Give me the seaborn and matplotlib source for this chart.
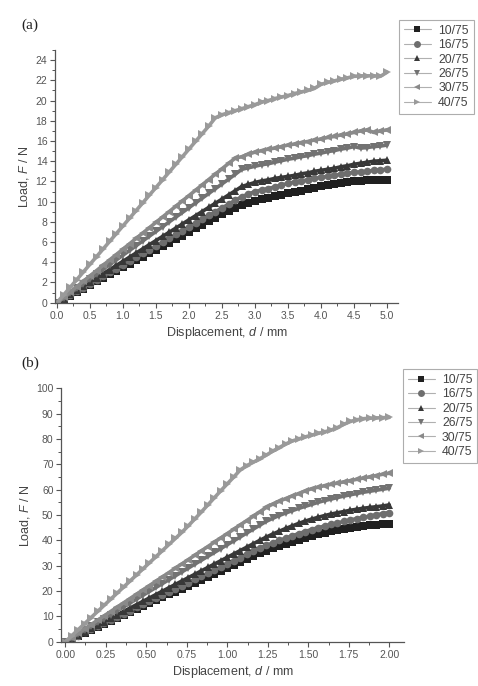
import numpy as np
import pandas as pd
import matplotlib
matplotlib.use("Agg")
import matplotlib.pyplot as plt
import seaborn as sns
from matplotlib.ticker import MultipleLocator

# series names, markers and grey levels
names = ["10/75", "16/75", "20/75", "26/75", "30/75", "40/75"]
markers = ["s", "o", "^", "v", "<", ">"]
colors = ["#202020", "#6e6e6e", "#383838", "#727272", "#8a8a8a", "#9a9a9a"]

# (a) displacement 0..5 mm, sampled every 0.1 mm
disp_a = np.round(np.arange(51) * 0.1, 2)
load_a = {
    "10/75": [0, 0.35, 0.7, 1.05, 1.4, 1.75, 2.1, 2.45, 2.8, 3.15, 3.5,
              3.85, 4.2, 4.55, 4.9, 5.25, 5.6, 5.95, 6.3, 6.65, 7.0,
              7.35, 7.7, 8.05, 8.4, 8.75, 9.05, 9.4, 9.7, 9.9, 10.1,
              10.25, 10.4, 10.55, 10.7, 10.85, 10.95, 11.1, 11.25, 11.4, 11.5,
              11.6, 11.7, 11.8, 11.9, 12.0, 12.05, 12.1, 12.1, 12.1, 12.1],
    "16/75": [0, 0.38, 0.75, 1.13, 1.5, 1.88, 2.25, 2.63, 3.0, 3.38, 3.75,
              4.13, 4.5, 4.88, 5.25, 5.63, 6.0, 6.38, 6.75, 7.13, 7.5,
              7.88, 8.25, 8.63, 9.0, 9.38, 9.75, 10.13, 10.5, 10.75, 11.0,
              11.15, 11.3, 11.45, 11.65, 11.8, 11.95, 12.05, 12.15, 12.3, 12.4,
              12.5, 12.6, 12.7, 12.8, 12.9, 12.95, 13.0, 13.1, 13.15, 13.2],
    "20/75": [0, 0.41, 0.82, 1.23, 1.64, 2.05, 2.46, 2.87, 3.28, 3.69, 4.1,
              4.51, 4.92, 5.33, 5.74, 6.15, 6.56, 6.97, 7.38, 7.79, 8.2,
              8.61, 9.02, 9.43, 9.84, 10.25, 10.66, 11.07, 11.5, 11.7, 11.9,
              12.05, 12.15, 12.3, 12.4, 12.5, 12.6, 12.75, 12.85, 13.0, 13.1,
              13.2, 13.3, 13.45, 13.55, 13.7, 13.8, 13.9, 14.0, 14.05, 14.1],
    "26/75": [0, 0.47, 0.94, 1.41, 1.88, 2.35, 2.82, 3.29, 3.76, 4.23, 4.7,
              5.17, 5.64, 6.11, 6.58, 7.05, 7.52, 7.99, 8.46, 8.93, 9.4,
              9.87, 10.34, 10.81, 11.28, 11.75, 12.22, 12.7, 13.2, 13.35, 13.5,
              13.65, 13.75, 13.9, 14.05, 14.2, 14.3, 14.45, 14.55, 14.7, 14.8,
              14.95, 15.05, 15.2, 15.3, 15.45, 15.3, 15.35, 15.45, 15.5, 15.6],
    "30/75": [0, 0.53, 1.06, 1.59, 2.12, 2.65, 3.18, 3.71, 4.24, 4.77, 5.3,
              5.83, 6.36, 6.89, 7.42, 7.95, 8.48, 9.01, 9.54, 10.07, 10.6,
              11.13, 11.66, 12.19, 12.72, 13.25, 13.78, 14.3, 14.45, 14.7, 14.9,
              15.05, 15.2, 15.3, 15.45, 15.6, 15.7, 15.85, 15.95, 16.1, 16.2,
              16.35, 16.45, 16.6, 16.7, 16.85, 17.0, 17.1, 16.85, 17.0, 17.1],
    "40/75": [0, 0.76, 1.52, 2.28, 3.04, 3.8, 4.56, 5.32, 6.08, 6.84, 7.6,
              8.36, 9.12, 9.88, 10.64, 11.4, 12.16, 12.92, 13.68, 14.44, 15.2,
              15.96, 16.72, 17.48, 18.3, 18.6, 18.8, 19.0, 19.2, 19.4, 19.6,
              19.85, 20.0, 20.2, 20.35, 20.5, 20.7, 20.85, 21.0, 21.2, 21.6,
              21.8, 21.95, 22.1, 22.25, 22.4, 22.45, 22.45, 22.45, 22.4, 22.8],
}

# (b) displacement 0..2 mm, sampled every 0.04 mm
disp_b = np.round(np.arange(51) * 0.04, 2)
load_b = {
    "10/75": [0, 1.17, 2.34, 3.5, 4.67, 5.84, 7.0, 8.18, 9.34, 10.5, 11.68,
              12.85, 14.0, 15.2, 16.35, 17.5, 18.7, 19.85, 21.0, 22.2, 23.35,
              24.5, 25.7, 26.85, 28.0, 29.2, 30.35, 31.5, 32.7, 33.85, 35.0,
              36.0, 36.9, 37.8, 38.7, 39.5, 40.3, 41.1, 41.9, 42.5, 43.1,
              43.6, 44.1, 44.6, 45.0, 45.4, 45.7, 46.0, 46.2, 46.4, 46.5],
    "16/75": [0, 1.23, 2.46, 3.7, 4.93, 6.16, 7.39, 8.62, 9.86, 11.09, 12.32,
              13.55, 14.78, 16.0, 17.25, 18.48, 19.7, 20.94, 22.18, 23.4, 24.64,
              25.87, 27.1, 28.34, 29.57, 30.8, 32.03, 33.26, 34.5, 35.7, 36.96,
              38.0, 39.0, 40.0, 40.9, 41.8, 42.7, 43.5, 44.3, 45.0, 45.7,
              46.3, 46.9, 47.5, 48.1, 48.6, 49.1, 49.6, 50.1, 50.6, 51.0],
    "20/75": [0, 1.33, 2.67, 4.0, 5.33, 6.67, 8.0, 9.33, 10.67, 12.0, 13.33,
              14.67, 16.0, 17.33, 18.67, 20.0, 21.33, 22.67, 24.0, 25.33, 26.67,
              28.0, 29.33, 30.67, 32.0, 33.33, 34.67, 36.0, 37.33, 38.67, 40.0,
              41.3, 42.5, 43.6, 44.7, 45.7, 46.7, 47.6, 48.4, 49.1, 49.8,
              50.4, 50.9, 51.4, 51.9, 52.3, 52.7, 53.0, 53.3, 53.6, 54.0],
    "26/75": [0, 1.53, 3.06, 4.6, 6.13, 7.66, 9.19, 10.72, 12.26, 13.79, 15.32,
              16.85, 18.38, 19.9, 21.45, 22.98, 24.5, 26.04, 27.58, 29.1, 30.64,
              32.17, 33.7, 35.24, 36.77, 38.3, 39.83, 41.36, 42.9, 44.43, 45.96,
              47.5, 48.7, 49.8, 50.8, 51.7, 52.6, 53.4, 54.2, 55.0, 55.7,
              56.3, 56.9, 57.5, 58.0, 58.5, 59.0, 59.4, 59.8, 60.2, 60.6],
    "30/75": [0, 1.71, 3.42, 5.12, 6.83, 8.54, 10.25, 11.96, 13.66, 15.37, 17.08,
              18.79, 20.5, 22.2, 23.91, 25.62, 27.33, 29.04, 30.74, 32.45, 34.16,
              35.87, 37.58, 39.28, 40.99, 42.7, 44.41, 46.12, 47.82, 49.53, 51.24,
              53.0, 54.3, 55.4, 56.5, 57.5, 58.5, 59.5, 60.4, 61.0, 61.6,
              62.1, 62.6, 63.1, 63.6, 64.1, 64.6, 65.1, 65.6, 66.1, 66.5],
    "40/75": [0, 2.4, 4.8, 7.2, 9.6, 12.0, 14.4, 16.8, 19.2, 21.6, 24.0,
              26.4, 28.8, 31.2, 33.6, 36.0, 38.4, 40.8, 43.2, 45.8, 48.5,
              51.2, 54.0, 56.8, 59.6, 62.3, 65.0, 67.8, 69.5, 70.8, 72.2,
              73.6, 75.2, 76.6, 78.0, 79.2, 80.0, 80.8, 81.5, 82.2, 82.8,
              83.5, 84.5, 85.8, 86.9, 87.6, 88.0, 88.2, 88.3, 88.4, 88.5],
}


def to_frame(disp, loads):
    rows = []
    for n in names:
        rows.append(pd.DataFrame({"d": disp, "F": loads[n], "sample": n}))
    return pd.concat(rows, ignore_index=True)


sns.set_style("white")
plt.rcParams["font.family"] = ["Liberation Sans", "DejaVu Sans"]
plt.rcParams["mathtext.fontset"] = "custom"
plt.rcParams["mathtext.rm"] = "Liberation Sans"
plt.rcParams["mathtext.it"] = "Liberation Sans:italic"

fig = plt.figure(figsize=(4.78, 6.86), dpi=100)

panels = [
    # data, disp, axes rect, xlim, ylim, x major/minor, y major/minor, xfmt, legend pos, tag
    (load_a, disp_a, [0.115, 0.558, 0.718, 0.369], (-0.03, 5.17), (-0.05, 25.0),
     (0.5, 0.25), (2, 1), "%.1f", (0.822, 0.980), "(a)", 0.963),
    (load_b, disp_b, [0.128, 0.064, 0.718, 0.370], (-0.025, 2.093), (-0.1, 100),
     (0.25, 0.125), (10, 5), "%.2f", (0.830, 0.471), "(b)", 0.471),
]

for loads, disp, rect, xl, yl, xt, yt, xfmt, legpos, tag, tagy in panels:
    ax = fig.add_axes(rect)
    df = to_frame(disp, loads)
    sns.lineplot(data=df, x="d", y="F", hue="sample", style="sample",
                 palette=colors, markers=markers, dashes=False,
                 markersize=5.5, mew=0, linewidth=2.6, ax=ax)
    ax.set_xlim(*xl)
    ax.set_ylim(*yl)
    ax.xaxis.set_major_locator(MultipleLocator(xt[0]))
    ax.xaxis.set_minor_locator(MultipleLocator(xt[1]))
    ax.yaxis.set_major_locator(MultipleLocator(yt[0]))
    ax.yaxis.set_minor_locator(MultipleLocator(yt[1]))
    ax.xaxis.set_major_formatter(matplotlib.ticker.FormatStrFormatter(xfmt))
    ax.tick_params(which="major", direction="out", length=3.5, width=0.8,
                   colors="#555555", labelsize=7.5, pad=2,
                   bottom=True, left=True)
    ax.tick_params(which="minor", direction="out", length=2, width=0.7,
                   colors="#555555", bottom=True, left=True)
    for s in ["top", "right"]:
        ax.spines[s].set_visible(False)
    for s in ["left", "bottom"]:
        ax.spines[s].set_color("#555555")
        ax.spines[s].set_linewidth(0.9)
    ax.set_xlabel("Displacement, $d$ / mm", fontsize=9, color="#444444", labelpad=3)
    ax.set_ylabel("Load, $F$ / N", fontsize=9, color="#444444", labelpad=3)

    handles, labels = ax.get_legend_handles_labels()
    leg = ax.legend(handles, labels, loc="upper left", bbox_to_anchor=legpos,
                    bbox_transform=fig.transFigure, fontsize=8.8, frameon=True,
                    fancybox=False, edgecolor="#999999", handlelength=2.2,
                    handletextpad=0.6, labelspacing=0.2, borderpad=0.4,
                    labelcolor="#444444")
    leg.get_frame().set_linewidth(0.8)
    for h, c in zip(leg.legend_handles, colors):
        h.set_color("#b0b0b0")
        h.set_markerfacecolor(c)
        h.set_markeredgecolor(c)
        h.set_linewidth(0.8)
        h.set_markersize(5)
    fig.text(0.045, tagy, tag, family=["Liberation Serif", "DejaVu Serif"],
             fontsize=11, color="#222222", va="center")

fig.savefig("out.png", dpi=100)
